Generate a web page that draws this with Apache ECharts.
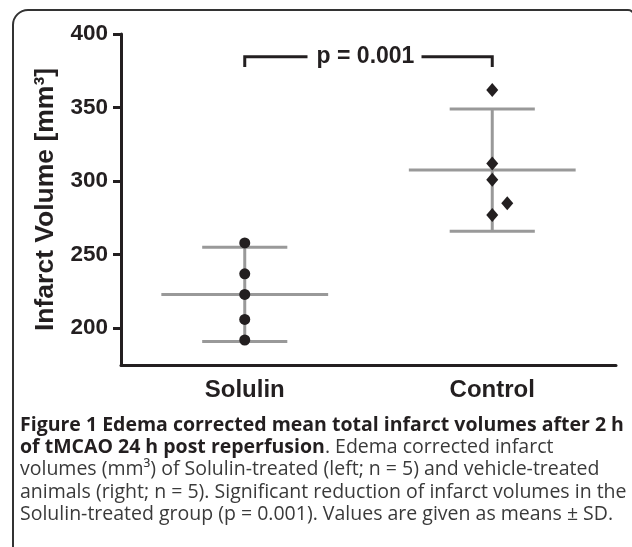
<!DOCTYPE html>
<html>
<head>
<meta charset="utf-8">
<script src="https://cdn.jsdelivr.net/npm/echarts@6/dist/echarts.min.js"></script>
<style>
html,body{margin:0;padding:0;background:#fff;}
#chart{width:632px;height:547px;}
</style>
</head>
<body>
<div id="chart"></div>
<script>
// ---- data ----
const categories = ['Solulin', 'Control'];
const solulinValues = [258, 237, 223, 206, 192];
const controlValues = [362, 312, 301, 285, 277];
const groupMeans = [223, 307.5];
const groupSDs = [32, 41.5];
const yTicks = [200, 250, 300, 350, 400];
const yName = 'Infarct Volume [mm³]';
const pLabel = 'p = 0.001';
const bracketTop = 384.5;
const bracketFoot = 377.5;
const captionLines = [
  '{b|Figure 1 Edema corrected mean total infarct volumes after 2 h}',
  '{b|of tMCAO 24 h post reperfusion}{n|. Edema corrected infarct}',
  '{n|volumes (mm³) of Solulin-treated (left; n = 5) and vehicle-treated}',
  '{n|animals (right; n = 5). Significant reduction of infarct volumes in the}',
  '{n|Solulin-treated group (p = 0.001). Values are given as means ± SD.}'
];

const dark = '#231f20';
const grayBar = '#999999';

const chart = echarts.init(document.getElementById('chart'), null, {renderer: 'canvas'});

const errData = categories.map((c, i) => [i, groupMeans[i], groupMeans[i] - groupSDs[i], groupMeans[i] + groupSDs[i]]);
const solulinData = solulinValues.map(v => [0, v]);
const controlData = controlValues.map((v, i) => {
  const item = {value: [1, v]};
  if (i === 3) item.symbolOffset = [15, 0];
  return item;
});

const capFont = '"Open Sans", sans-serif';
const capSize = 19.5;
const capLH = 22.3;

const option = {
  animation: false,
  backgroundColor: '#fff',
  grid: {left: 121, right: 16, top: 34, bottom: 182, containLabel: false},
  xAxis: {
    type: 'category',
    data: categories,
    boundaryGap: true,
    axisLine: {lineStyle: {color: dark, width: 3}},
    axisTick: {alignWithLabel: true, length: 10, lineStyle: {color: dark, width: 3}},
    axisLabel: {color: dark, fontFamily: 'Liberation Sans, Arial, sans-serif', fontWeight: 'bold', fontSize: 24, margin: 13},
    splitLine: {show: false}
  },
  yAxis: {
    type: 'value',
    min: 175,
    max: 400,
    name: yName,
    nameLocation: 'middle',
    nameGap: 62,
    nameTextStyle: {color: dark, fontFamily: 'Liberation Sans, Arial, sans-serif', fontWeight: 'bold', fontSize: 26.5},
    axisLine: {show: true, lineStyle: {color: dark, width: 3}},
    axisTick: {show: true, length: 8, customValues: yTicks, lineStyle: {color: dark, width: 3}},
    axisLabel: {customValues: yTicks, color: dark, fontFamily: 'Liberation Sans, Arial, sans-serif', fontWeight: 'bold', fontSize: 22.5, margin: 13},
    splitLine: {show: false}
  },
  series: [
    {
      type: 'custom',
      z: 1,
      data: errData,
      renderItem: function (params, api) {
        const c = api.coord([api.value(0), api.value(1)]);
        const lo = api.coord([api.value(0), api.value(2)]);
        const hi = api.coord([api.value(0), api.value(3)]);
        const band = api.size([1, 0])[0];
        const mw = band * 0.337, cw = band * 0.172;
        const st = {stroke: grayBar, lineWidth: 3};
        return {
          type: 'group',
          children: [
            {type: 'line', shape: {x1: c[0], y1: hi[1], x2: c[0], y2: lo[1]}, style: st},
            {type: 'line', shape: {x1: c[0] - mw, y1: c[1], x2: c[0] + mw, y2: c[1]}, style: st},
            {type: 'line', shape: {x1: c[0] - cw, y1: hi[1], x2: c[0] + cw, y2: hi[1]}, style: st},
            {type: 'line', shape: {x1: c[0] - cw, y1: lo[1], x2: c[0] + cw, y2: lo[1]}, style: st}
          ]
        };
      }
    },
    {
      type: 'scatter',
      z: 3,
      symbol: 'circle',
      symbolSize: 11,
      itemStyle: {color: dark, opacity: 1},
      data: solulinData
    },
    {
      type: 'scatter',
      z: 3,
      symbol: 'diamond',
      symbolSize: [12, 14],
      itemStyle: {color: dark, opacity: 1},
      data: controlData
    },
    {
      type: 'custom',
      z: 2,
      data: [[0, 1, bracketTop, bracketFoot]],
      renderItem: function (params, api) {
        const a = api.coord([api.value(0), api.value(2)]);
        const b = api.coord([api.value(1), api.value(2)]);
        const f = api.coord([api.value(0), api.value(3)]);
        const mid = (a[0] + b[0]) / 2;
        const st = {stroke: dark, lineWidth: 3, fill: null};
        return {
          type: 'group',
          children: [
            {type: 'polyline', shape: {points: [[a[0], f[1]], [a[0], a[1]], [mid - 61, a[1]]]}, style: st},
            {type: 'polyline', shape: {points: [[mid + 53, b[1]], [b[0], b[1]], [b[0], f[1]]]}, style: st},
            {type: 'text', x: mid - 3, y: a[1], style: {text: pLabel, fill: dark, font: 'bold 23px "Liberation Sans", Arial, sans-serif', align: 'center', verticalAlign: 'middle'}}
          ]
        };
      }
    }
  ],
  graphic: [
    {
      type: 'rect',
      silent: true,
      shape: {x: 13, y: 10, width: 621, height: 620, r: [15, 6, 0, 0]},
      style: {fill: null, stroke: '#333', lineWidth: 2}
    },
    {
      type: 'text',
      left: 20,
      top: 414,
      style: {
        text: captionLines.join('\n'),
        lineHeight: capLH,
        rich: {
          b: {fontFamily: capFont, fontWeight: 'bold', fontSize: capSize, fill: dark, lineHeight: capLH},
          n: {fontFamily: capFont, fontWeight: 'normal', fontSize: capSize, fill: '#3a3a3a', lineHeight: capLH}
        }
      }
    }
  ]
};

chart.setOption(option);
</script>
</body>
</html>
